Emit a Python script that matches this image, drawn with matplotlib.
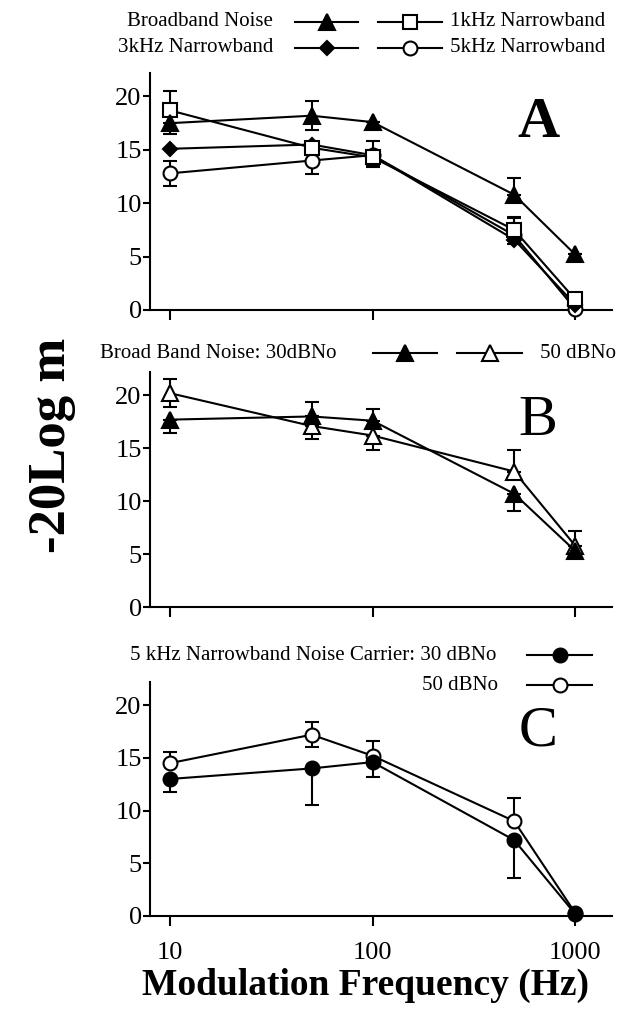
import numpy as np
import matplotlib.pyplot as plt
from matplotlib.lines import Line2D

plt.rcParams['font.family'] = ['Liberation Serif', 'DejaVu Serif']

# Frecuencias de modulación (Hz)
freq = [10, 50, 100, 500, 1000]

# Panel A
a_broad = [17.5, 18.2, 17.6, 10.8, 5.2]
a_broad_lo = [1.0, 1.3, 0.0, 0.0, 0.0]
a_broad_hi = [0.0, 1.4, 0.0, 1.6, 0.0]
a_1k = [18.7, 15.2, 14.3, 7.5, 1.0]
a_1k_lo = [0.0, 0.0, 0.9, 0.0, 0.0]
a_1k_hi = [1.8, 0.0, 1.5, 1.2, 0.0]
a_3k = [15.1, 15.5, 14.5, 6.6, 0.5]
a_3k_lo = [0.0, 0.0, 1.0, 0.4, 0.0]
a_3k_hi = [0.0, 0.0, 0.0, 0.0, 0.0]
a_5k = [12.8, 14.0, 14.5, 7.0, 0.1]
a_5k_lo = [1.2, 1.3, 0.0, 0.0, 0.0]
a_5k_hi = [1.2, 0.0, 0.0, 1.6, 0.0]

# Panel B
b_30 = [17.7, 18.0, 17.6, 10.7, 5.3]
b_30_lo = [1.3, 0.0, 0.0, 1.6, 0.6]
b_30_hi = [0.0, 1.4, 1.1, 0.0, 0.0]
b_50 = [20.2, 17.1, 16.2, 12.8, 5.8]
b_50_lo = [1.3, 1.2, 1.4, 0.0, 0.0]
b_50_hi = [1.3, 0.0, 0.0, 2.0, 1.4]

# Panel C
c_30 = [13.0, 14.0, 14.6, 7.2, 0.2]
c_30_lo = [1.2, 3.5, 1.4, 3.6, 0.0]
c_30_hi = [0.0, 0.0, 0.0, 0.0, 0.0]
c_50 = [14.5, 17.2, 15.2, 9.0, 0.3]
c_50_lo = [0.0, 1.2, 0.0, 0.0, 0.0]
c_50_hi = [1.1, 1.2, 1.4, 2.2, 0.0]

W, H = 635, 1009
fig = plt.figure(figsize=(W / 100, H / 100), dpi=100)

MS = {'^': 11, 's': 10, 'o': 10, 'D': 7.5}

def fx(px):
    return px / W

def fy(py):
    return 1 - py / H

def serie(ax, y, lo, hi, marker, fc):
    ax.errorbar(freq, y, yerr=[lo, hi], fmt='none', ecolor='k', elinewidth=1.5,
                capsize=5, capthick=1.5, zorder=1, clip_on=False)
    ax.plot(freq, y, color='k', lw=1.5, marker=marker, markersize=MS[marker],
            markerfacecolor=fc, markeredgecolor='k', markeredgewidth=1.5,
            zorder=3, clip_on=False)

def panel(bottom_px, top_px, letter, bold, labels):
    ax = fig.add_axes([fx(150), fy(bottom_px), fx(612) - fx(150), fy(top_px) - fy(bottom_px)])
    ax.set_xscale('log')
    ax.set_xlim(7.97, 1520)
    ax.set_ylim(0, 22.2)
    ax.set_yticks([0, 5, 10, 15, 20])
    ax.set_xticks([10, 100, 1000])
    ax.minorticks_off()
    ax.spines['top'].set_visible(False)
    ax.spines['right'].set_visible(False)
    for s in ['left', 'bottom']:
        ax.spines[s].set_linewidth(1.5)
    ax.tick_params(axis='y', direction='out', length=5, width=1.5, labelsize=19, pad=1)
    ax.tick_params(axis='x', direction='out', length=7, width=1.5, labelsize=19, pad=12)
    if labels:
        ax.set_xticklabels(['10', '100', '1000'])
    else:
        ax.set_xticklabels([])
    ax.text(0.84, 0.79, letter, transform=ax.transAxes, fontsize=42,
            fontweight='bold' if bold else 'normal', ha='center', va='center')
    return ax

def handle(x0, x1, ypx, marker, fc):
    xm = (x0 + x1) / 2
    fig.add_artist(Line2D([fx(x0), fx(xm), fx(x1)], [fy(ypx)] * 3,
                          transform=fig.transFigure, color='k', lw=1.5,
                          marker=marker, markevery=[1], markersize=MS[marker],
                          markerfacecolor=fc, markeredgecolor='k',
                          markeredgewidth=1.5))

# Panel A
axA = panel(310, 73, 'A', True, False)
serie(axA, a_5k, a_5k_lo, a_5k_hi, 'o', 'white')
serie(axA, a_3k, a_3k_lo, a_3k_hi, 'D', 'k')
serie(axA, a_1k, a_1k_lo, a_1k_hi, 's', 'white')
serie(axA, a_broad, a_broad_lo, a_broad_hi, '^', 'k')

fs = 15
fig.text(fx(273), fy(22), 'Broadband Noise', ha='right', va='center', fontsize=fs)
fig.text(fx(273), fy(48), '3kHz Narrowband', ha='right', va='center', fontsize=fs)
fig.text(fx(450), fy(22), '1kHz Narrowband', ha='left', va='center', fontsize=fs)
fig.text(fx(450), fy(48), '5kHz Narrowband', ha='left', va='center', fontsize=fs)
handle(295, 358, 22, '^', 'k')
handle(378, 442, 22, 's', 'white')
handle(295, 358, 48, 'D', 'k')
handle(378, 442, 48, 'o', 'white')

# Panel B
axB = panel(607, 372, 'B', False, False)
serie(axB, b_50, b_50_lo, b_50_hi, '^', 'white')
serie(axB, b_30, b_30_lo, b_30_hi, '^', 'k')

fig.text(fx(100), fy(353), 'Broad Band Noise: 30dBNo', ha='left', va='center', fontsize=fs)
handle(373, 437, 353, '^', 'k')
handle(457, 522, 353, '^', 'white')
fig.text(fx(540), fy(353), '50 dBNo', ha='left', va='center', fontsize=fs)

# Panel C
axC = panel(916, 682, 'C', False, True)
serie(axC, c_50, c_50_lo, c_50_hi, 'o', 'white')
serie(axC, c_30, c_30_lo, c_30_hi, 'o', 'k')

fig.text(fx(496), fy(655), '5 kHz Narrowband Noise Carrier: 30 dBNo', ha='right', va='center', fontsize=fs)
fig.text(fx(498), fy(685), '50 dBNo', ha='right', va='center', fontsize=fs)
handle(527, 592, 655, 'o', 'k')
handle(527, 592, 685, 'o', 'white')

# Etiquetas de ejes
fig.text(fx(52), fy(445), '-20Log m', rotation=90, ha='center', va='center',
         fontsize=38, fontweight='bold')
fig.text(fx(365), fy(985), 'Modulation Frequency (Hz)', ha='center', va='center',
         fontsize=27, fontweight='bold')

fig.savefig('out.png', dpi=100)
